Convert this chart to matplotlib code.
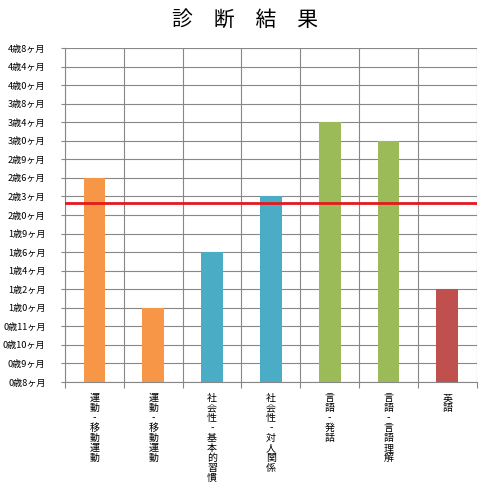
import matplotlib
matplotlib.use("Agg")
import matplotlib.pyplot as plt
from matplotlib.ticker import FixedLocator

plt.rcParams['font.family'] = ['Noto Sans CJK JP', 'DejaVu Sans']

# Data
categories = ["運動-移動運動", "運動-移動運動", "社会性-基本的習慣", "社会性-対人関係",
              "言語-発話", "言語-言語理解", "英語"]
y_levels = ["0歳8ヶ月", "0歳9ヶ月", "0歳10ヶ月", "0歳11ヶ月", "1歳0ヶ月", "1歳2ヶ月",
            "1歳4ヶ月", "1歳6ヶ月", "1歳9ヶ月", "2歳0ヶ月", "2歳3ヶ月", "2歳6ヶ月",
            "2歳9ヶ月", "3歳0ヶ月", "3歳4ヶ月", "3歳8ヶ月", "4歳0ヶ月", "4歳4ヶ月", "4歳8ヶ月"]
values = ["2歳6ヶ月", "1歳0ヶ月", "1歳6ヶ月", "2歳3ヶ月", "3歳4ヶ月", "3歳0ヶ月", "1歳2ヶ月"]
colors = ["#F79646", "#F79646", "#4BACC6", "#4BACC6", "#9BBB59", "#9BBB59", "#C0504D"]
reference_level = 9.66  # actual age line (between 2歳0ヶ月 and 2歳3ヶ月)

fig = plt.figure(figsize=(4.91, 4.99), dpi=100)
ax = fig.add_axes([65/491, 1-382/499, (476.7-65)/491, (382-48)/499])

idx = [y_levels.index(v) for v in values]
x = list(range(len(categories)))
ax.bar(x, idx, width=0.37, color=colors, zorder=3)
ax.axhline(reference_level, color="#E31A1C", lw=2, zorder=4)

ax.set_xlim(-0.5, len(categories) - 0.5)
ax.set_ylim(0, len(y_levels) - 1)

ax.set_yticks(range(len(y_levels)))
ax.set_yticklabels(y_levels, fontsize=6.6)
ax.tick_params(axis='y', length=3, pad=11, color="#878787", width=0.8)

# vertical gridlines at category boundaries
ax.xaxis.set_major_locator(FixedLocator([i - 0.5 for i in range(len(categories) + 1)]))
ax.set_xticklabels([])
ax.tick_params(axis='x', length=4, color="#878787", width=0.8)
ax.grid(True, color="#878787", lw=0.8, zorder=0)

for i, c in enumerate(categories):
    ax.text(i, -0.6, "\n".join(c), ha='center', va='top', fontsize=7.2,
            linespacing=1.0, transform=ax.transData)

for s in ['top', 'right']:
    ax.spines[s].set_visible(False)
for s in ['left', 'bottom']:
    ax.spines[s].set_color("#878787")
    ax.spines[s].set_linewidth(0.8)

fig.text(0.5, 1-20/499, "診　断　結　果", ha='center', va='center', fontsize=15)

fig.savefig("out.png", dpi=100)
